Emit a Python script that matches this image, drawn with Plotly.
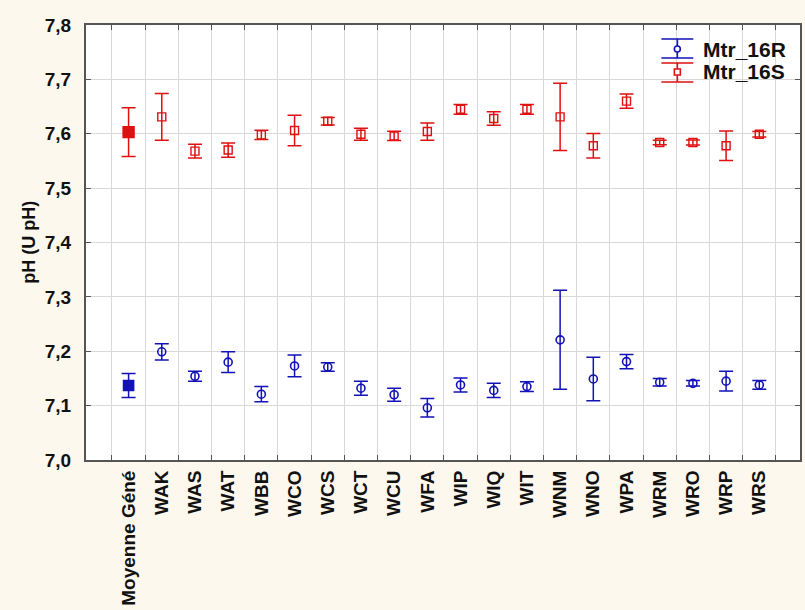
import plotly.graph_objects as go

categories = ["Moyenne Géné", "WAK", "WAS", "WAT", "WBB", "WCO", "WCS", "WCT", "WCU", "WFA",
              "WIP", "WIQ", "WIT", "WNM", "WNO", "WPA", "WRM", "WRO", "WRP", "WRS"]

r_mean = [7.137, 7.199, 7.154, 7.180, 7.121, 7.173, 7.171, 7.132, 7.120, 7.096,
          7.138, 7.128, 7.135, 7.221, 7.149, 7.181, 7.143, 7.141, 7.145, 7.138]
r_err = [0.022, 0.015, 0.009, 0.019, 0.014, 0.020, 0.008, 0.013, 0.012, 0.017,
         0.013, 0.013, 0.009, 0.091, 0.040, 0.013, 0.007, 0.005, 0.018, 0.008]

s_mean = [7.603, 7.631, 7.568, 7.570, 7.598, 7.606, 7.623, 7.599, 7.596, 7.604,
          7.645, 7.628, 7.645, 7.631, 7.578, 7.660, 7.584, 7.584, 7.578, 7.599]
s_err = [0.045, 0.043, 0.0125, 0.013, 0.0085, 0.028, 0.007, 0.011, 0.0086, 0.016,
         0.009, 0.0125, 0.009, 0.062, 0.0225, 0.013, 0.004, 0.0045, 0.027, 0.005]

y_ticks = [7.0, 7.1, 7.2, 7.3, 7.4, 7.5, 7.6, 7.7, 7.8]
series_names = ["Mtr_16R", "Mtr_16S"]

BLUE = "#1212B8"
RED = "#DE1010"
BG = "#FCF8EE"
FONT = "Liberation Sans, Arial, sans-serif"

fig = go.Figure()

fig.add_trace(go.Scatter(
    x=categories, y=r_mean, mode="markers", name=series_names[0],
    error_y=dict(type="data", array=r_err, visible=True, color=BLUE, thickness=1.5, width=7),
    marker=dict(
        symbol=["square"] + ["circle-open"] * (len(categories) - 1),
        size=[10] + [8] * (len(categories) - 1),
        color=BLUE, opacity=1, line=dict(color=BLUE, width=1.6)),
    showlegend=False,
))
fig.add_trace(go.Scatter(
    x=categories, y=s_mean, mode="markers", name=series_names[1],
    error_y=dict(type="data", array=s_err, visible=True, color=RED, thickness=1.5, width=7),
    marker=dict(
        symbol=["square"] + ["square-open"] * (len(categories) - 1),
        size=[11] + [8] * (len(categories) - 1),
        color=RED, opacity=1, line=dict(color=RED, width=1.4)),
    showlegend=False,
))

# Manual legend (paper coordinates computed from pixel layout)
L, R, T, B = 86, 802, 25, 460
def px(xp):
    return (xp - L) / (R - L)
def py(yp):
    return (B - yp) / (B - T)

shapes = []
legend_rows = [(BLUE, 39, 58, 49, "circle"), (RED, 63, 82, 72, "square")]
for col, ytop, ybot, ymid, kind in legend_rows:
    for yy in (ytop, ybot):
        shapes.append(dict(type="line", xref="paper", yref="paper",
                           x0=px(663), x1=px(695), y0=py(yy), y1=py(yy),
                           line=dict(color=col, width=1.6)))
    shapes.append(dict(type="line", xref="paper", yref="paper",
                       x0=px(679), x1=px(679), y0=py(ytop), y1=py(ybot),
                       line=dict(color=col, width=1.6)))
    shapes.append(dict(type="circle" if kind == "circle" else "rect", xref="paper", yref="paper",
                       x0=px(676), x1=px(682), y0=py(ymid - 3), y1=py(ymid + 3),
                       line=dict(color=col, width=1.6), fillcolor="white"))

annotations = []
for (col, ytop, ybot, ymid, kind), name in zip(legend_rows, series_names):
    annotations.append(dict(text=name, xref="paper", yref="paper", x=px(703), y=py(ymid),
                            xanchor="left", yanchor="middle", showarrow=False,
                            font=dict(family=FONT, size=21, color="#111111", weight="bold")))
annotations.append(dict(text="pH (U pH)", xref="paper", yref="paper", x=px(28), y=0.5,
                        xanchor="center", yanchor="middle", textangle=-90, showarrow=False,
                        font=dict(family=FONT, size=18, color="#111111", weight="bold")))

fig.update_layout(
    width=805, height=610,
    margin=dict(l=L, r=805 - R, t=T, b=610 - B, pad=0),
    paper_bgcolor=BG, plot_bgcolor="white",
    separators=", ",
    font=dict(family=FONT, size=18, color="#111111"),
    shapes=shapes, annotations=annotations,
    showlegend=False,
)
fig.update_xaxes(
    type="category", categoryorder="array", categoryarray=categories,
    tickson="boundaries", ticks="inside", ticklen=5, tickcolor="#555555",
    showgrid=True, gridcolor="#D8D8D8", gridwidth=1,
    showline=True, linecolor="#555555", linewidth=2, mirror="allticks",
    tickangle=-90, tickfont=dict(family=FONT, size=19, color="#111111", weight="bold"),
    ticklabelstandoff=1,
)
fig.update_yaxes(
    range=[7.0, 7.8], tickvals=y_ticks, tickformat=".1f",
    ticks="inside", ticklen=5, tickcolor="#555555",
    showgrid=True, gridcolor="#D8D8D8", gridwidth=1, zeroline=False,
    showline=True, linecolor="#555555", linewidth=2, mirror="allticks",
    tickfont=dict(family=FONT, size=19, color="#111111", weight="bold"),
    ticklabelstandoff=9,
)

fig.write_html("out.html", config={"displayModeBar": False},
               post_script="document.body.style.margin='0';document.body.style.background='%s';" % BG)
